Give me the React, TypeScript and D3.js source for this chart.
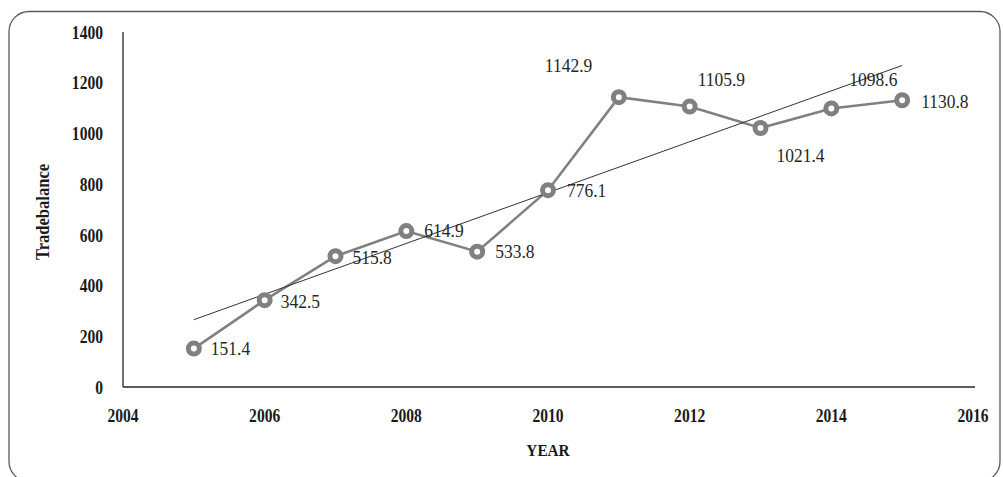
import React from "react";
import * as d3 from "d3";

const years = [2005, 2006, 2007, 2008, 2009, 2010, 2011, 2012, 2013, 2014, 2015];
const tradeBalance = [151.4, 342.5, 515.8, 614.9, 533.8, 776.1, 1142.9, 1105.9, 1021.4, 1098.6, 1130.8];
const xTicks = [2004, 2006, 2008, 2010, 2012, 2014, 2016];
const yTicks = [0, 200, 400, 600, 800, 1000, 1200, 1400];
// label placement (style): offset of label start / vertical centre from its point
const labelOffsets: [number, number][] = [
  [17, 0], [16, 1], [17, 1], [18, -1], [18, 0], [19, 0],
  [-74, -32], [8, -27], [16, 27], [18, -29], [19, 1],
];

const W = 1003;
const H = 477;

export default function App() {
  const x = d3.scaleLinear().domain([2004, 2016]).range([123, 973]);
  const y = d3.scaleLinear().domain([0, 1400]).range([387, 32]);

  const pts = years.map((yr, i) => [yr, tradeBalance[i]] as [number, number]);
  const line = d3
    .line<[number, number]>()
    .x((d) => x(d[0]))
    .y((d) => y(d[1]));

  // linear trend (least squares)
  const mx = d3.mean(years) as number;
  const my = d3.mean(tradeBalance) as number;
  const sxy = d3.sum(years.map((v, i) => (v - mx) * (tradeBalance[i] - my)));
  const sxx = d3.sum(years.map((v) => (v - mx) * (v - mx)));
  const slope = sxy / sxx;
  const icpt = my - slope * mx;
  const x0 = years[0];
  const x1 = years[years.length - 1];

  const font = "Liberation Serif, Times New Roman, serif";
  const boldStyle = { fontFamily: font, fontWeight: 700 } as React.CSSProperties;

  return (
    <svg
      width={W}
      height={H}
      style={{ position: "absolute", left: 0, top: 0, background: "#fff" }}
    >
      <rect x={9} y={11.5} width={991} height={470} rx={20} ry={20} fill="#fff" stroke="#595959" strokeWidth={1.3} />

      {/* axes */}
      <line x1={x(2004)} x2={x(2004)} y1={y(1400)} y2={y(0)} stroke="#262626" strokeWidth={1.3} />
      <line x1={x(2004)} x2={975} y1={y(0)} y2={y(0)} stroke="#262626" strokeWidth={1.3} />

      {yTicks.map((t) => (
        <g key={"y" + t} transform={`translate(103,${y(t)}) scale(0.82,1)`}>
          <text dy="0.35em" textAnchor="end" fontSize={19} fill="#1a1a1a" style={boldStyle}>
            {t}
          </text>
        </g>
      ))}
      {xTicks.map((t) => (
        <g key={"x" + t} transform={`translate(${x(t)},415) scale(0.82,1)`}>
          <text dy="0.35em" textAnchor="middle" fontSize={19} fill="#1a1a1a" style={boldStyle}>
            {t}
          </text>
        </g>
      ))}

      <g transform="translate(548,450) scale(0.9,1)">
        <text dy="0.35em" textAnchor="middle" fontSize={17} fill="#1a1a1a" style={boldStyle}>
          YEAR
        </text>
      </g>
      <g transform="translate(43,212) rotate(-90) scale(0.92,1)">
        <text dy="0.35em" textAnchor="middle" fontSize={18} fill="#1a1a1a" style={boldStyle}>
          Tradebalance
        </text>
      </g>

      {/* series line */}
      <path d={line(pts) as string} fill="none" stroke="#808080" strokeWidth={2.6} />

      {/* trend line */}
      <line
        x1={x(x0)}
        y1={y(icpt + slope * x0)}
        x2={x(x1)}
        y2={y(icpt + slope * x1)}
        stroke="#333"
        strokeWidth={1}
      />

      {/* markers */}
      {pts.map((p, i) => (
        <circle key={"m" + i} cx={x(p[0])} cy={y(p[1])} r={5.5} fill="#fff" stroke="#808080" strokeWidth={5} />
      ))}

      {/* labels */}
      {pts.map((p, i) => (
        <g
          key={"l" + i}
          transform={`translate(${x(p[0]) + labelOffsets[i][0]},${y(p[1]) + labelOffsets[i][1]}) scale(0.92,1)`}
        >
          <text dy="0.35em" fontSize={19} fill="#262626" style={{ fontFamily: font }}>
            {p[1].toFixed(1)}
          </text>
        </g>
      ))}
    </svg>
  );
}
